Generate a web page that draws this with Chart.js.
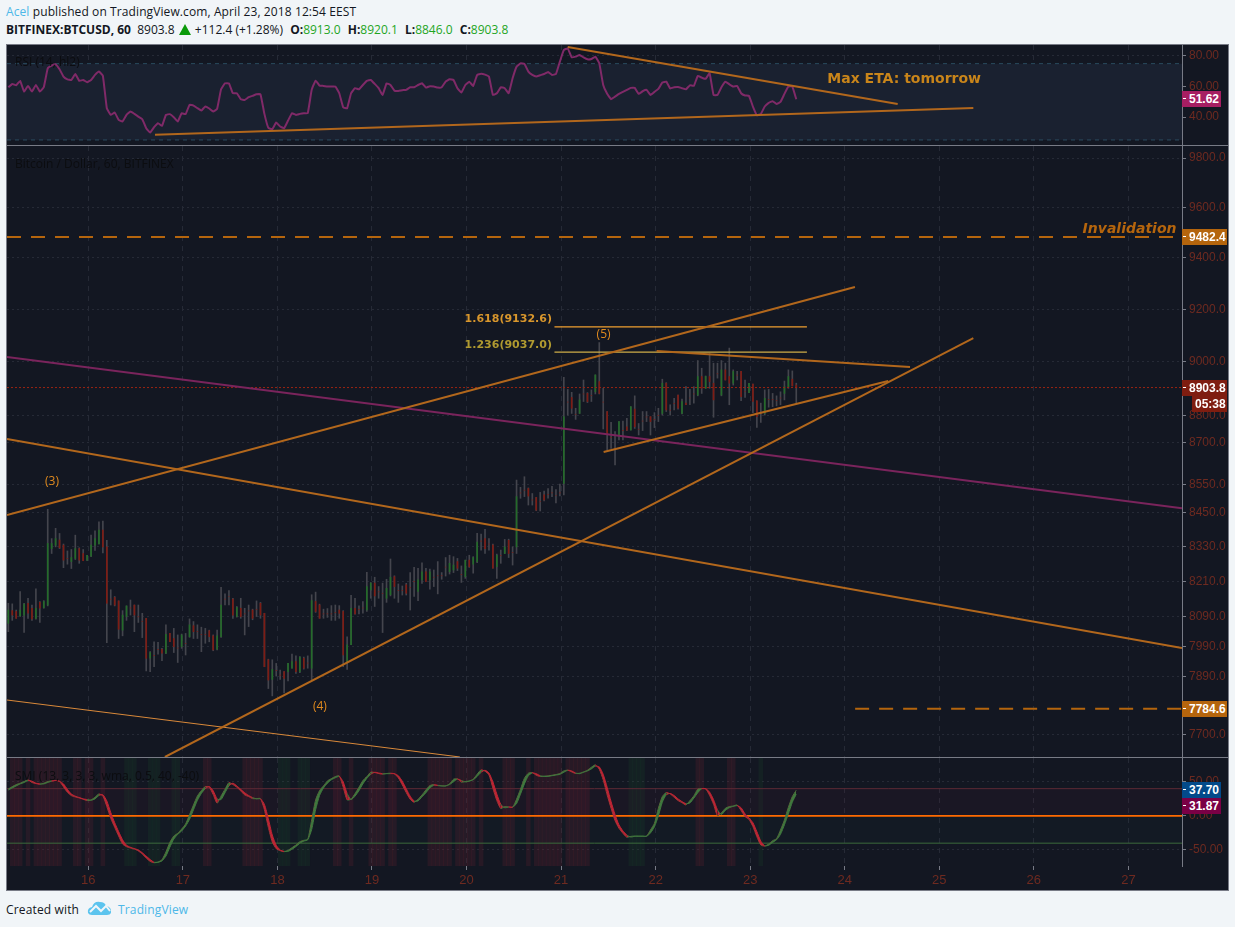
<!DOCTYPE html>
<html>
<head>
<meta charset="utf-8">
<title>BTCUSD</title>
<script src="https://cdn.jsdelivr.net/npm/chart.js@4"></script>
<style>
  html, body { margin: 0; padding: 0; background: #f1f5f8; }
  body { width: 1235px; height: 927px; position: relative; overflow: hidden; font-family: "Open Sans", sans-serif; font-size: 12px; color: #131722; }
  canvas { position: absolute; left: 7px; }
  #frame { position: absolute; left: 6px; top: 44px; width: 1221px; height: 845px; border: 1px solid #787b86; background: #131722; }
  .sep { position: absolute; left: 7px; width: 1221px; height: 1px; background: #787b86; }
  .head { position: absolute; left: 6px; white-space: nowrap; }
  .head b { font-weight: 700; }
  .ohlc { margin-left: 4px; }
  .blue { color: #4db8e8; }
  .green { color: #1fa51f; }
  .tag { position: absolute; height: 16px; color: #fff; font: bold 12px/16px "Liberation Sans", sans-serif; box-sizing: border-box; padding-left: 7px; }
  .tag.mark::before { content: ""; position: absolute; left: 1px; top: 7px; width: 3px; height: 1px; background: #fff; }
  .title { position: absolute; left: 15px; color: #0c0d10; font-size: 12px; white-space: nowrap; }
  .note { position: absolute; white-space: nowrap; }
</style>
</head>
<body>
<div class="head" style="top:3px;letter-spacing:0.1px"><span class="blue">Acel</span> published on TradingView.com, April 23, 2018 12:54 EEST</div>
<div class="head" style="top:21px"><b>BITFINEX:BTCUSD, 60</b>&nbsp; 8903.8 <svg width="12" height="11" viewBox="0 0 12 11" style="vertical-align:-1px;margin:0 1px"><path d="M6 0 L12 11 L0 11Z" fill="#0a9a0a"/></svg> +112.4 (+1.28%) <b class="ohlc">O:</b><span class="green">8913.0</span> <b class="ohlc">H:</b><span class="green">8920.1</span> <b class="ohlc">L:</b><span class="green">8846.0</span> <b class="ohlc">C:</b><span class="green">8903.8</span></div>
<div id="frame"></div>
<canvas id="rsiChart" width="1221" height="100" style="top:45px"></canvas>
<canvas id="priceChart" width="1221" height="611" style="top:146px"></canvas>
<canvas id="smiChart" width="1221" height="132" style="top:758px"></canvas>
<div class="sep" style="top:145px"></div>
<div class="sep" style="top:757px"></div>
<div class="title" style="top:53px">RSI (14, hl2)</div>
<div class="title" style="top:155px">Bitcoin / Dollar, 60, BITFINEX</div>
<div class="title" style="top:767px">SMI (13, 3, 3, 3, wma, 0.5, 40, -40)</div>
<div class="head" style="top:901px;letter-spacing:0.15px">Created with</div>
<svg style="position:absolute;left:87px;top:900px" width="25" height="16" viewBox="0 0 25 16">
  <path d="M1 13 Q0 8 5 7 Q7 1 13 2 Q18 2 19 6 Q25 7 24 13 Q23 15 20 15 L5 15 Q2 15 1 13Z" fill="#5cc4ee"/>
  <path d="M3 12 L9 6 L14 11 L19 6 L23 11" fill="none" stroke="#f1f5f8" stroke-width="2"/>
</svg>
<div class="head blue" style="left:118px;top:901px;letter-spacing:0.15px">TradingView</div>

<script>
// axis range and tick labels
var dayMin = 15.14;
var dayMax = 27.567;
var dayTicks = [16, 17, 18, 19, 20, 21, 22, 23, 24, 25, 26, 27];
var priceTicks = [7700, 7890, 7990, 8090, 8210, 8330, 8450, 8550, 8700, 8800, 9000, 9200, 9400, 9600, 9800];
var rsiTicks = [80, 60, 40];
var smiTicks = [50, 0, -50];

// hourly bars, first one at 15.154
var firstBarDay = 15.154;
var barHigh = [
  8136,8134,8113,8176,8136,8153,8130,8185,8142,8145,
  8462,8359,8395,8377,8340,8316,8321,8371,8327,8321,
  8301,8371,8386,8418,8420,8353,8182,8159,8144,8111,
  8127,8147,8130,8130,8102,8085,7973,8006,8004,7984,
  8063,8034,8051,8029,8032,8034,8083,8074,8063,8055,
  8051,8045,8029,8045,8190,8168,8179,8153,8125,8153,
  8119,8130,8116,8144,8139,8102,7948,7946,7934,7912,
  7907,7934,7965,7959,7957,7955,7959,8165,8174,8133,
  8116,8118,8128,8130,8128,8111,8023,8163,8153,8127,
  8142,8242,8207,8225,8193,8205,8218,8288,8230,8202,
  8195,8204,8241,8259,8256,8275,8256,8253,8250,8279,
  8241,8293,8301,8296,8290,8264,8284,8301,8296,8377,
  8375,8391,8359,8340,8305,8319,8356,8357,8330,8566,
  8540,8578,8538,8518,8504,8522,8527,8536,8544,8532,
  8552,8942,8897,8886,8827,8880,8932,8885,8895,8951,
  9073,8901,8815,8775,8741,8778,8780,8790,8833,8873,
  8771,8815,8815,8796,8811,8827,8935,8922,8840,8864,
  8876,8861,8907,8897,8907,9005,8976,8947,9032,8995,
  8995,9005,8995,9052,8970,8964,8964,8932,8920,8917,
  8855,8846,8895,8897,8882,8873,8888,8928,8970,8966,
  8920.1];
var barLow = [
  8040,8078,8085,8091,8037,8085,8078,8082,8071,8119,
  8127,8307,8330,8324,8258,8270,8255,8286,8273,8282,
  8282,8296,8318,8340,8309,8003,8130,8127,8017,8026,
  8078,8096,8040,8071,8020,7909,7907,7923,7965,7943,
  7966,8006,7970,7937,7984,7962,8021,8017,8017,7973,
  8001,8006,7976,7979,8021,8130,8130,8085,8089,8085,
  8029,8057,8080,8091,8085,7923,7851,7827,7892,7881,
  7837,7876,7918,7901,7903,7915,7918,7879,8105,8085,
  8085,8088,8078,8078,8085,7923,7914,7996,8099,8100,
  8102,8108,8153,8125,8153,8037,8139,8161,8153,8139,
  8164,8164,8113,8159,8145,8204,8214,8184,8193,8168,
  8218,8229,8236,8241,8248,8207,8221,8259,8239,8275,
  8319,8307,8319,8256,8221,8273,8307,8293,8267,8307,
  8501,8507,8477,8477,8457,8456,8492,8501,8507,8485,
  8509,8513,8802,8808,8786,8808,8852,8848,8852,8880,
  8880,8751,8674,8680,8620,8711,8711,8745,8747,8753,
  8729,8745,8778,8729,8756,8778,8802,8815,8802,8821,
  8824,8806,8840,8840,8846,8873,8882,8901,8901,8794,
  8939,8873,8932,8840,8913,8932,8855,8867,8885,8811,
  8757,8775,8802,8831,8833,8836,8840,8858,8901,8910,
  8846];
var barOpen = [
  8068,8111,8108,8093,8096,8136,8119,8085,8139,8121,
  8130,8324,8336,8354,8336,8290,8279,8290,8324,8307,
  8284,8298,8336,8340,8389,8330,8150,8156,8144,8045,
  8091,8120,8130,8090,8075,8085,7951,7960,7980,7981,
  7968,8034,8017,7985,7990,8000,8023,8060,8040,8030,
  8030,8043,8026,7981,8023,8150,8160,8150,8091,8119,
  8100,8110,8113,8115,8136,8102,7946,7881,7910,7895,
  7907,7907,7918,7940,7907,7951,7935,7918,8142,8130,
  8100,8100,8100,8105,8113,8108,7940,7996,8119,8115,
  8120,8113,8182,8205,8175,8170,8153,8165,8227,8180,
  8180,8199,8190,8210,8176,8216,8244,8216,8225,8230,
  8230,8260,8244,8250,8279,8235,8227,8284,8270,8279,
  8350,8359,8340,8336,8261,8300,8307,8353,8310,8330,
  8520,8530,8536,8495,8504,8490,8513,8515,8520,8510,
  8520,8554,8850,8867,8805,8808,8880,8882,8875,8888,
  8926,8850,8815,8720,8680,8729,8745,8759,8747,8824,
  8750,8780,8795,8796,8785,8800,8808,8920,8820,8845,
  8876,8808,8846,8865,8880,8876,8945,8901,8945,8920,
  8955,8876,8970,8945,8920,8950,8964,8890,8885,8917,
  8855,8810,8808,8860,8860,8855,8865,8882,8907,8935,
  8913];
var barClose = [
  8113,8096,8085,8113,8133,8102,8083,8119,8119,8142,
  8342,8342,8359,8327,8284,8290,8293,8324,8284,8282,
  8301,8336,8359,8389,8330,8136,8150,8130,8048,8096,
  8127,8120,8096,8090,8075,7951,7970,7960,7980,7968,
  8031,8006,7990,7985,8029,8000,8063,8040,8040,8030,
  8030,8023,7979,8026,8130,8150,8160,8096,8122,8091,
  8100,8110,8085,8115,8096,7923,7879,7914,7910,7895,
  7884,7934,7940,7907,7955,7918,7935,8145,8108,8085,
  8100,8100,8100,8105,8102,7962,7996,8119,8100,8115,
  8120,8193,8205,8161,8175,8170,8187,8225,8193,8180,
  8180,8170,8190,8210,8216,8244,8210,8244,8225,8230,
  8230,8260,8273,8267,8256,8235,8284,8261,8293,8347,
  8350,8324,8340,8256,8301,8300,8330,8307,8310,8507,
  8520,8530,8509,8495,8459,8490,8495,8515,8520,8510,
  8520,8796,8850,8827,8805,8858,8880,8852,8875,8951,
  8882,8850,8735,8720,8680,8778,8745,8747,8833,8759,
  8750,8780,8795,8778,8785,8800,8920,8821,8820,8845,
  8827,8852,8840,8865,8880,8945,8901,8945,8926,8858,
  8955,8970,8932,8920,8964,8950,8870,8890,8920,8852,
  8796,8810,8864,8860,8860,8855,8865,8907,8945,8910,
  8903.8];

var rsiValues = [
  59.5,61.7,60.8,63.7,56.7,60.4,56.7,61,56.7,59.5,
  71.9,73.7,74.5,71.3,66.5,64.7,64.3,68.2,63.7,64.3,
  62.8,64.3,67.6,69.8,67.1,45.8,41.4,43,38.2,37.1,
  41.4,43.6,42.1,40.3,38.6,32.7,29.9,33.4,36,34.2,
  41.4,41.9,39.9,37.1,42.5,41.9,48,47.5,45.8,44.3,
  46.9,45.6,43.6,45.4,58.2,62.1,62.1,55.6,55.6,51.7,
  51.2,53,53.9,54.9,54.9,42.1,32.9,32.1,36.4,33.8,
  32.7,37.7,42.5,41.4,42.1,42.5,42.5,57.8,63.9,60.6,
  60.4,60,60,60,55.6,46.4,45.8,55.6,58.9,58.2,
  61,63.7,64.3,61.7,58.9,54.5,62.1,61,57.3,57.1,
  57.6,57.8,59.5,59.5,61,62.1,59.3,60.2,60,59.3,
  59.5,63.2,64.7,64.3,58.9,56,61,63.2,60.4,67.6,
  68.4,67.8,66.5,54.5,55.6,59.5,58.9,55.6,65.4,73,
  75.2,74.8,69.8,67.6,66.5,67.4,68.2,69.5,67.6,68.2,
  76.3,83.9,85,79.1,79.6,80.7,79.1,77.8,78,79.6,
  75.2,61,55.2,51.7,53.4,55.2,56.5,57.8,59.1,59.1,
  55.2,56.9,57.8,54.5,56.5,58.4,62.6,63.2,58.7,59.5,
  59.7,58.9,58.2,60.8,60.4,66.9,65.8,65,68.7,54.5,
  54.5,59.5,63.2,61.5,60,60.4,55.6,54.1,53.9,46.9,
  41.2,42.1,46.9,49.3,50.4,48.6,49.9,55.2,60,60,
  51.62];

var smiValues = [
  39.6,43,46,48,50.4,52.9,49,47.5,46.5,48,
  50.4,51.4,51.9,50.4,42.6,34.7,29.8,27.9,26.4,24.5,
  22.5,23.5,27.4,32.3,29.4,13.7,-3.5,-16.7,-29.5,-41.2,
  -45.2,-47.1,-48.6,-51.5,-55.9,-61.8,-66.7,-68.7,-67.7,-64.3,
  -53,-38.8,-29.5,-25.5,-19.2,-11.8,1.9,16.1,29.4,37.2,
  43.1,42.1,31.3,18.6,29.4,39.2,49,46,42.1,36.7,
  30.8,28.4,25.4,25.4,25.4,8.8,-16.7,-38.3,-48.1,-51,
  -52.5,-50.5,-46.6,-42.7,-37.8,-35.8,-34.4,-5.9,23.5,37.2,
  44.1,51.4,54.8,57.8,58.8,42.1,23.5,24.5,32.8,42.1,
  51.9,57.8,64.2,63.7,62.2,61.2,62.2,62.7,61.7,55.8,
  45.5,34.3,24.5,20,24.5,30.8,38.2,44.5,46,44.5,
  44.1,44.1,47,53.9,54.4,49.5,50.4,51.4,53.9,61.2,
  67.6,65.6,60.2,40.6,22.5,10.7,13.7,13.2,12.7,24.5,
  39.2,55.3,62.7,63.7,59.7,57.8,58.3,58.8,59.7,60.7,
  62.2,66.1,67.1,64.6,62.2,62.7,64.6,67.1,71.5,74.9,
  68.6,52.9,30.8,11.2,-6.9,-18.2,-25.5,-31.4,-30,-29.5,
  -29.5,-29.5,-29.5,-20.6,-10.8,11.2,28.4,34.3,32.3,27.4,
  22.5,19.5,16.1,22.5,29.4,39.2,40.1,39.6,30.3,17.1,
  0.4,4.4,11.2,13.7,14.6,16.1,7.8,-1,-5,-15.7,
  -30.5,-42.7,-44.2,-41.2,-36.3,-33.4,-20.6,-5.9,12.7,28.4,
  37.7];
var smiSignal = [
  38,41,44,47,49,52,51,48,47,47,
  49,51,52,51,47,39,32,29,27,25,
  24,23,25,30,31,22,5,-10,-23,-35,
  -43,-46,-48,-50,-54,-59,-64,-68,-68,-66,
  -59,-46,-34,-27,-22,-15,-5,9,23,33,
  40,43,37,25,24,34,44,48,44,39,
  34,30,27,25,25,17,-4,-28,-43,-50,
  -52,-52,-49,-45,-40,-37,-35,-20,9,30,
  41,48,53,56,58,50,33,24,29,37,
  47,55,61,64,63,62,62,62,62,59,
  51,40,29,22,22,28,34,41,45,45,
  44,44,46,50,54,52,50,51,53,58,
  64,67,63,50,32,17,12,13,13,18,
  32,47,59,63,62,59,58,58,59,60,
  61,64,67,66,63,62,64,66,69,73,
  72,61,42,21,2,-13,-22,-28,-31,-30,
  -30,-30,-30,-25,-16,0,20,31,33,30,
  25,21,18,19,26,34,40,40,35,24,
  9,2,8,12,14,15,12,3,-3,-10,
  -23,-37,-44,-43,-39,-35,-27,-13,3,20,
  31.87];

// background stripes in the SMI pane, by bar number
var redStripes = [1,2,3,5,7,8,9,10,11,12,13,17,18,20,21,24,50,51,60,61,62,63,64,83,84,87,92,93,94,95,97,98,
  107,108,109,110,111,112,114,115,116,117,118,120,126,127,128,132,134,135,136,137,138,139,140,142,143,144,145,146,147,175,176,183,184];
var greenStripes = [30,31,32,36,37,38,42,43,69,70,71,74,75,76,158,159,160,161,191];

// drawn lines as [day, value] pairs
var channelTop = [[15.14, 8442], [24.108, 9286]];
var channelBottom = [[16.81, 7629.5], [25.36, 9090]];
var waveFall = [[15.14, 8714], [27.567, 7985]];
var longFall = [[15.14, 9018], [27.567, 8466]];
var thinFall = [[15.14, 7813.5], [19.93, 7629.5]];
var wedgeLow = [[21.45, 8667], [24.46, 8928]];
var wedgeHigh = [[22.01, 9041], [24.69, 8981]];
var fibHigh = [[20.93, 9132.6], [23.6, 9132.6]];
var fibLow = [[20.93, 9037], [23.6, 9037]];
var invalidLine = [[15.14, 9482.4], [27.567, 9482.4]];
var targetLine = [[24.11, 7784.6], [27.567, 7784.6]];
var lastPriceLine = [[15.14, 8903.8], [27.567, 8903.8]];
var rsiSupport = [[16.705, 28.4], [25.36, 46]];
var rsiResist = [[21.07, 85.9], [24.56, 48.6]];

Chart.defaults.font.family = '"Liberation Sans", sans-serif';
Chart.defaults.font.size = 12;
Chart.defaults.animation = false;

var orange = 'rgb(178,103,28)';
var gridColor = 'rgb(38,42,54)';
var frameColor = '#787b86';
var tickColor = '#6e2a20';
var ribbonGreen = 'rgb(64,120,62)';
var ribbonRed = 'rgb(190,36,52)';

function barDay(i) {
  return firstBarDay + i / 24;
}

function series(values) {
  return values.map(function (v, i) { return { x: barDay(i), y: v }; });
}

function segment(points, color, width, dash, order) {
  return {
    type: 'line',
    data: points.map(function (p) { return { x: p[0], y: p[1] }; }),
    borderColor: color,
    borderWidth: width,
    borderDash: dash || [],
    pointRadius: 0,
    tension: 0,
    fill: false,
    order: order || 1
  };
}

function xScale(showLabels) {
  return {
    type: 'linear',
    bounds: 'data',
    offset: false,
    min: dayMin,
    max: dayMax,
    afterBuildTicks: function (s) {
      s.ticks = dayTicks.map(function (d) { return { value: d }; });
    },
    afterFit: function (s) {
      s.height = showLabels ? 24 : 0;
      s.paddingLeft = 0;
      s.paddingRight = 0;
    },
    border: { display: false, dash: [5, 5] },
    grid: { offset: false, color: gridColor, drawTicks: showLabels, tickLength: 4, tickColor: frameColor },
    ticks: {
      display: showLabels,
      color: tickColor,
      maxRotation: 0,
      autoSkip: false,
      padding: 3,
      font: { size: 13 },
      callback: function (v) { return String(v); }
    }
  };
}

function yScale(type, lo, hi, tickList, digits) {
  return {
    type: type,
    position: 'right',
    bounds: 'data',
    beginAtZero: false,
    min: lo,
    max: hi,
    afterBuildTicks: function (s) {
      s.ticks = tickList.map(function (v) { return { value: v }; });
    },
    afterFit: function (s) {
      s.width = 46;
      s.paddingTop = 0;
      s.paddingBottom = 0;
    },
    border: { display: true, color: frameColor, width: 1, dash: [2, 3] },
    grid: { color: gridColor, tickLength: 4, tickColor: frameColor },
    ticks: {
      color: tickColor,
      padding: 3,
      autoSkip: false,
      callback: function (v) { return Number(v).toFixed(digits); }
    }
  };
}

function baseOptions(yAxis, showX) {
  return {
    responsive: false,
    animation: false,
    layout: { padding: 0, autoPadding: false },
    plugins: { legend: { display: false }, tooltip: { enabled: false } },
    scales: { x: xScale(showX), y: yAxis }
  };
}

// RSI pane
var rsiBandTop = [[dayMin, 75], [dayMax, 75]];
var rsiBandBottom = [[dayMin, 25], [dayMax, 25]];
var bandFill = segment(rsiBandBottom, '#2b4a5e', 1, [4, 4], 5);
bandFill.fill = { target: 0, above: 'rgb(26,33,48)', below: 'rgb(26,33,48)' };

var rsiChart = new Chart(document.getElementById('rsiChart'), {
  type: 'line',
  data: {
    datasets: [
      segment(rsiBandTop, '#2b4a5e', 1, [4, 4], 5),
      bandFill,
      {
        data: series(rsiValues),
        borderColor: 'rgb(128,42,104)',
        borderWidth: 2,
        pointRadius: 0,
        tension: 0.1,
        order: 2
      },
      segment(rsiSupport, orange, 2, null, 1),
      segment(rsiResist, orange, 2, null, 1)
    ]
  },
  options: baseOptions(yScale('linear', 21.7, 87.2, rsiTicks, 2), false)
});

// main price pane
var priceChart = new Chart(document.getElementById('priceChart'), {
  type: 'bar',
  data: {
    datasets: [
      {
        data: barHigh.map(function (h, i) { return { x: barDay(i), y: [barLow[i], h] }; }),
        backgroundColor: '#44454d',
        barThickness: 1,
        grouped: false,
        order: 6
      },
      {
        data: barOpen.map(function (o, i) { return { x: barDay(i), y: [o, barClose[i]] }; }),
        backgroundColor: barOpen.map(function (o, i) { return barClose[i] > o ? '#246b2a' : '#7e1c14'; }),
        barThickness: 1,
        grouped: false,
        order: 5
      },
      segment(lastPriceLine, '#9a2412', 1, [2, 2], 4),
      segment(invalidLine, '#b5650d', 2, [14, 10], 2),
      segment(targetLine, '#b5650d', 2, [14, 10], 2),
      segment(fibHigh, '#f0a030', 1.2, null, 3),
      segment(fibLow, '#cfae48', 1.2, null, 3),
      segment(longFall, 'rgb(122,36,92)', 2, null, 2),
      segment(waveFall, orange, 2, null, 1),
      segment(channelTop, orange, 2, null, 1),
      segment(channelBottom, orange, 2, null, 1),
      segment(thinFall, '#d9893a', 1, null, 1),
      segment(wedgeLow, orange, 2, null, 1),
      segment(wedgeHigh, orange, 2, null, 1)
    ]
  },
  options: baseOptions(yScale('logarithmic', 7629.5, 9850, priceTicks, 1), false)
});

// SMI pane
var smiUpper = [[dayMin, 40], [dayMax, 40]];
var smiMiddle = [[dayMin, 0], [dayMax, 0]];
var smiLower = [[dayMin, -40], [dayMax, -40]];
var upperBand = segment(smiUpper, '#5c2a35', 1, null, 4);
upperBand.fill = { target: 1, above: 'rgba(120,30,70,0.08)', below: 'rgba(120,30,70,0.08)' };
var lowerBand = segment(smiLower, '#3c6b3c', 1, null, 4);
lowerBand.fill = { target: 1, above: 'rgba(30,90,100,0.04)', below: 'rgba(30,90,100,0.04)' };

function stripes(list, color) {
  return {
    data: list.map(function (i) { return { x: barDay(i), y: [-73.5, 85] }; }),
    backgroundColor: color,
    barThickness: 3.94,
    grouped: false,
    order: 8
  };
}

function ribbonSegment(ctx) {
  var i = ctx.p1DataIndex;
  return smiValues[i] >= smiSignal[i] ? ribbonGreen : ribbonRed;
}

var smiChart = new Chart(document.getElementById('smiChart'), {
  type: 'bar',
  data: {
    datasets: [
      upperBand,
      segment(smiMiddle, '#ff6a00', 1.6, null, 3),
      lowerBand,
      stripes(redStripes, 'rgba(120,35,50,0.2)'),
      stripes(greenStripes, 'rgba(30,110,50,0.12)'),
      {
        type: 'line',
        data: series(smiValues),
        borderWidth: 1,
        pointRadius: 0,
        tension: 0.2,
        fill: false,
        segment: { borderColor: ribbonSegment },
        order: 2
      },
      {
        type: 'line',
        data: series(smiSignal),
        borderWidth: 1,
        pointRadius: 0,
        tension: 0.2,
        fill: { target: 5, above: ribbonRed, below: ribbonGreen },
        segment: { borderColor: ribbonSegment },
        order: 1
      }
    ]
  },
  options: baseOptions(yScale('linear', -73.5, 85, smiTicks, 2), true)
});

// text tied to chart values
function addNote(chart, day, value, text, css, alignRight) {
  var box = chart.canvas.getBoundingClientRect();
  var el = document.createElement('div');
  el.className = 'note';
  el.textContent = text;
  el.style.cssText += css;
  document.body.appendChild(el);
  var x = box.left + chart.scales.x.getPixelForValue(day);
  var y = box.top + chart.scales.y.getPixelForValue(value);
  el.style.left = (alignRight ? x - el.offsetWidth : x - el.offsetWidth / 2) + 'px';
  el.style.top = (y - el.offsetHeight / 2) + 'px';
}

var waveCss = 'color:#e08a1e;font-size:12px;';
addNote(priceChart, 15.616, 8563, '(3)', waveCss);
addNote(priceChart, 18.45, 7794, '(4)', waveCss);
addNote(priceChart, 21.45, 9109, '(5)', waveCss);
addNote(priceChart, 20.9, 9163, '1.618(9132.6)', 'color:#d8962c;font:bold 11px "DejaVu Sans";', true);
addNote(priceChart, 20.9, 9064, '1.236(9037.0)', 'color:#b09a30;font:bold 11px "DejaVu Sans";', true);
addNote(priceChart, 27.51, 9518, 'Invalidation', 'color:#b5650d;font:italic bold 14px "DejaVu Sans";', true);
addNote(rsiChart, 24.63, 65.6, 'Max ETA: tomorrow', 'color:#c9851a;font:bold 14px "DejaVu Sans";');

// price tags on the right axis
function addTag(chart, value, text, bg, left, width, plain) {
  var box = chart.canvas.getBoundingClientRect();
  var el = document.createElement('div');
  el.className = plain ? 'tag' : 'tag mark';
  el.textContent = text;
  el.style.background = bg;
  el.style.left = left + 'px';
  el.style.width = width + 'px';
  el.style.top = (box.top + chart.scales.y.getPixelForValue(value) - 8) + 'px';
  if (plain) el.style.paddingLeft = '3px';
  document.body.appendChild(el);
}

addTag(rsiChart, 51.62, '51.62', '#a61e62', 1182, 39);
addTag(priceChart, 9482.4, '9482.4', '#b5650d', 1182, 45);
addTag(priceChart, 8903.8, '8903.8', '#7f1d10', 1182, 45);
addTag(priceChart, 8843, '05:38', '#7f1d10', 1192, 35, true);
addTag(priceChart, 7784.6, '7784.6', '#b5650d', 1182, 45);
addTag(smiChart, 37.7, '37.70', '#034a8a', 1182, 39);
addTag(smiChart, 14.5, '31.87', '#7a0045', 1182, 39);
</script>
</body>
</html>
